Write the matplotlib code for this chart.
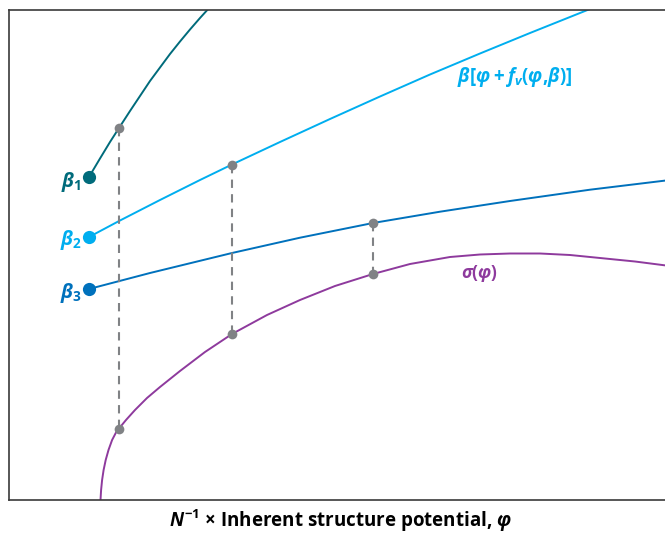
import numpy as np
import matplotlib
matplotlib.use("Agg")
import matplotlib.pyplot as plt

plt.rcParams['font.family'] = ['Open Sans', 'DejaVu Sans']
plt.rcParams['mathtext.fontset'] = 'custom'
plt.rcParams['mathtext.rm'] = 'Open Sans:bold'
plt.rcParams['mathtext.it'] = 'Open Sans:italic:bold'
plt.rcParams['mathtext.bf'] = 'Open Sans:bold'

# values (x = phi, y = distance below the top), pixel-like units
beta1_x = [89, 100, 110, 119, 130, 140, 150, 160, 170, 180, 190, 200, 210]
beta1_y = [177, 158.5, 142, 128, 111, 96, 81, 67.5, 54, 41.5, 29.5, 18, 7]

beta2_x = [89, 120, 160, 200, 232, 280, 330, 380, 430, 480, 530, 580, 600]
beta2_y = [237, 220.5, 200, 180, 164.5, 142, 119, 96.5, 74.5, 53.5, 33, 13, 5]

beta3_x = [89, 150, 232, 300, 373, 440, 510, 590, 670]
beta3_y = [289, 273, 253, 237.7, 223, 211.7, 201, 189.7, 180]

sigma_x = [100.5, 101.1, 102.1, 103.6, 105.7, 108.5, 112.1, 117.3, 119, 126, 135, 147,
           160, 180, 205, 232, 267, 300, 335, 373, 410, 450, 480, 510, 540, 570, 600,
           635, 670]
sigma_y = [500, 490, 480, 470, 460, 450, 440, 430, 428.5, 420, 410, 398,
           387, 371, 352, 334, 315, 300, 286, 274, 264, 257, 254.5, 253.5, 253.5, 255,
           258, 261.5, 266]

# tie lines between beta line and sigma curve
tie_x = [119, 232, 373]
tie_top = [128, 164.5, 223]
tie_bot = [428.5, 334, 274]

H = 536
def up(v):
    return [H - t for t in v]

c1 = '#006B7B'
c2 = '#00AEEF'
c3 = '#0071BC'
cs = '#8E3A9D'
cg = '#808285'

fig = plt.figure(figsize=(6.65, 5.36), dpi=100)
ax = fig.add_axes([9 / 665, 36 / 536, (672 - 9) / 665, 490 / 536])
ax.set_xlim(9, 672)
ax.set_ylim(36, 526)

ax.plot(beta1_x, up(beta1_y), color=c1, lw=1.4)
ax.plot(beta2_x, up(beta2_y), color=c2, lw=1.4)
ax.plot(beta3_x, up(beta3_y), color=c3, lw=1.4)
ax.plot(sigma_x, up(sigma_y), color=cs, lw=1.4)

for x, t, b in zip(tie_x, tie_top, tie_bot):
    ax.plot([x, x], [H - t, H - b], color=cg, lw=1.5, ls=(0, (4, 3)))
    ax.plot([x, x], [H - t, H - b], 'o', color=cg, ms=7, mec='none')

ax.plot(beta1_x[0], H - beta1_y[0], 'o', color=c1, ms=9.5, mec='none')
ax.plot(beta2_x[0], H - beta2_y[0], 'o', color=c2, ms=9.5, mec='none')
ax.plot(beta3_x[0], H - beta3_y[0], 'o', color=c3, ms=9.5, mec='none')

ax.text(71, H - 182, r'$\beta_1$', color=c1, fontsize=14, ha='center', va='center')
ax.text(71, H - 240, r'$\beta_2$', color=c2, fontsize=14, ha='center', va='center')
ax.text(71, H - 293, r'$\beta_3$', color=c3, fontsize=14, ha='center', va='center')
ax.text(515, H - 77, r'$\beta[\varphi + f_v(\varphi{,}\beta)]$', color=c2, fontsize=13.5,
        ha='center', va='center')
ax.text(480, H - 274, r'$\sigma(\varphi)$', color=cs, fontsize=12.5, ha='center', va='center')

for s in ['left', 'top', 'bottom']:
    ax.spines[s].set_color('#3a3a3a')
    ax.spines[s].set_linewidth(1.2)
ax.spines['right'].set_visible(False)
ax.set_xticks([])
ax.set_yticks([])

fig.text(340 / 665, 1 - 521 / 536, r'$N^{-1}$ × Inherent structure potential, $\varphi$',
         fontsize=13.5, fontweight='bold', ha='center', va='center')

fig.savefig('out.png', dpi=100)
